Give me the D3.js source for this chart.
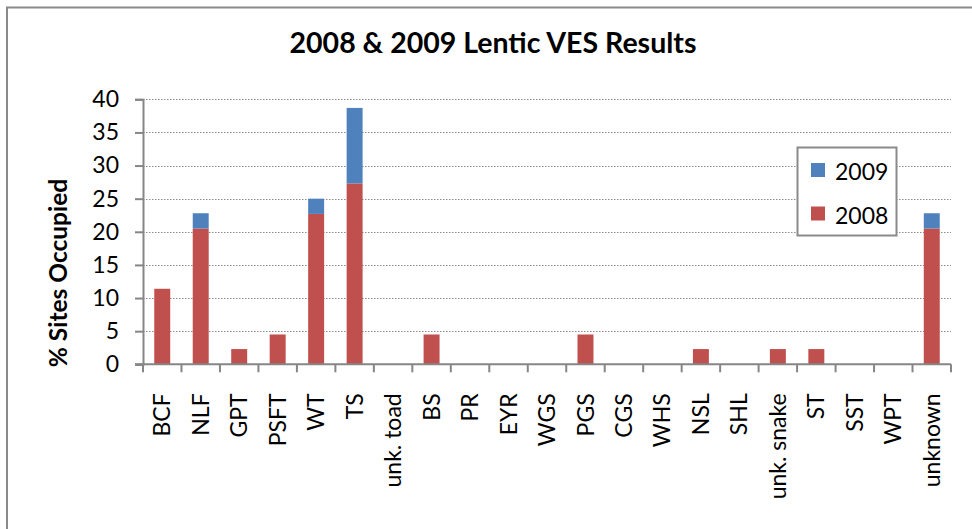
<!DOCTYPE html>
<html>
<head>
<meta charset="utf-8">
<script src="https://cdn.jsdelivr.net/npm/d3@7"></script>
<style>
  body { margin: 0; background: #fff; }
  svg { font-family: Lato, "Open Sans", sans-serif; }
</style>
</head>
<body>
<div id="chart"></div>
<script>
// species codes along the x axis
var categories = ['BCF', 'NLF', 'GPT', 'PSFT', 'WT', 'TS', 'unk. toad', 'BS', 'PR', 'EYR',
  'WGS', 'PGS', 'CGS', 'WHS', 'NSL', 'SHL', 'unk. snake', 'ST', 'SST', 'WPT', 'unknown'];

// % sites occupied, 2008 (bottom of stack)
var values2008 = [11.4, 20.5, 2.3, 4.5, 22.7, 27.3, 0, 4.5, 0, 0,
  0, 4.5, 0, 0, 2.3, 0, 2.3, 2.3, 0, 0, 20.5];

// 2009 segment stacked on top
var values2009 = [0, 2.3, 0, 0, 2.3, 11.4, 0, 0, 0, 0,
  0, 0, 0, 0, 0, 0, 0, 0, 0, 0, 2.3];

var yTicks = [0, 5, 10, 15, 20, 25, 30, 35, 40];
var seriesNames = ['2008', '2009'];

var colors = {
  '2008': '#c0504d',
  '2009': '#4f81bd',
  axis: '#868686',
  grid: '#8c8c8c'
};

var width = 972, height = 529;
var plotLeft = 143, plotRight = 951, plotTop = 99.3, plotBottom = 364.3;

var svg = d3.select('#chart').append('svg')
  .attr('width', width)
  .attr('height', height);

// chart area border (only top/left visible in the frame)
svg.append('rect')
  .attr('x', 7).attr('y', 7.5)
  .attr('width', 1000).attr('height', 1000)
  .attr('fill', 'none')
  .attr('stroke', '#8a8a8a')
  .attr('stroke-width', 2);

var rows = categories.map(function (c, i) {
  return { cat: c, '2008': values2008[i], '2009': values2009[i] };
});

var x = d3.scaleBand()
  .domain(categories)
  .range([plotLeft, plotRight])
  .paddingInner(0.585)
  .paddingOuter(0.2925);

var y = d3.scaleLinear()
  .domain([0, 40])
  .range([plotBottom, plotTop]);

// dotted gridlines
svg.append('g')
  .selectAll('line')
  .data(yTicks.filter(function (d) { return d > 0; }))
  .enter().append('line')
  .attr('x1', plotLeft).attr('x2', plotRight)
  .attr('y1', function (d) { return Math.round(y(d)) + 0.5; })
  .attr('y2', function (d) { return Math.round(y(d)) + 0.5; })
  .attr('stroke', colors.grid)
  .attr('stroke-width', 1.2)
  .attr('stroke-dasharray', '1.5,1.5');

// stacked bars
var stack = d3.stack().keys(seriesNames);
var layers = stack(rows);

svg.append('g')
  .selectAll('g')
  .data(layers)
  .enter().append('g')
  .attr('fill', function (d) { return colors[d.key]; })
  .selectAll('rect')
  .data(function (d) { return d; })
  .enter().append('rect')
  .attr('x', function (d) { return x(d.data.cat); })
  .attr('width', x.bandwidth())
  .attr('y', function (d) { return y(d[1]); })
  .attr('height', function (d) { return y(d[0]) - y(d[1]); });

// y axis
var yAxis = d3.axisLeft(y)
  .tickValues(yTicks)
  .tickSize(8)
  .tickPadding(16);

var gy = svg.append('g')
  .attr('transform', 'translate(' + plotLeft + ',0)')
  .call(yAxis);
gy.select('.domain').attr('stroke', colors.axis).attr('stroke-width', 2);
gy.selectAll('.tick line').attr('stroke', colors.axis).attr('stroke-width', 2);
gy.selectAll('.tick text')
  .attr('font-size', 23)
  .attr('font-family', 'Lato, sans-serif')
  .attr('fill', '#000');

// x axis: ticks sit between categories
var gx = svg.append('g')
  .attr('transform', 'translate(0,' + plotBottom + ')');
gx.append('line')
  .attr('x1', plotLeft - 8).attr('x2', plotRight)
  .attr('stroke', colors.axis).attr('stroke-width', 2);

var step = x.step();
var boundaries = d3.range(categories.length + 1).map(function (i) { return plotLeft + i * step; });
gx.selectAll('line.tk')
  .data(boundaries)
  .enter().append('line')
  .attr('class', 'tk')
  .attr('x1', function (d) { return d; }).attr('x2', function (d) { return d; })
  .attr('y1', 0).attr('y2', 8)
  .attr('stroke', colors.axis).attr('stroke-width', 2);

gx.selectAll('text')
  .data(categories)
  .enter().append('text')
  .attr('transform', function (d) {
    return 'translate(' + (x(d) + x.bandwidth() / 2) + ',29) rotate(-90)';
  })
  .attr('text-anchor', 'end')
  .attr('dy', '0.35em')
  .attr('font-size', 23)
  .text(function (d) { return d; });

// title
svg.append('text')
  .attr('x', 493).attr('y', 53)
  .attr('text-anchor', 'middle')
  .attr('font-size', 28.5)
  .attr('font-weight', 'bold')
  .text('2008 & 2009 Lentic VES Results');

// y axis title
svg.append('text')
  .attr('transform', 'translate(67,273) rotate(-90)')
  .attr('text-anchor', 'middle')
  .attr('font-size', 24.5)
  .attr('font-weight', 'bold')
  .text('% Sites Occupied');

// legend
var legend = svg.append('g');
legend.append('rect')
  .attr('x', 797.5).attr('y', 147.5)
  .attr('width', 99).attr('height', 88)
  .attr('fill', '#fff')
  .attr('stroke', '#8a8a8a')
  .attr('stroke-width', 2);

var legendItems = ['2009', '2008'];
legend.selectAll('g.item')
  .data(legendItems)
  .enter().append('g')
  .attr('class', 'item')
  .attr('transform', function (d, i) { return 'translate(811,' + (163 + i * 43.5) + ')'; })
  .each(function (d) {
    var g = d3.select(this);
    g.append('rect')
      .attr('width', 14).attr('height', 14)
      .attr('fill', colors[d]);
    g.append('text')
      .attr('x', 24).attr('y', 17)
      .attr('font-size', 23)
      .text(d);
  });
</script>
</body>
</html>
